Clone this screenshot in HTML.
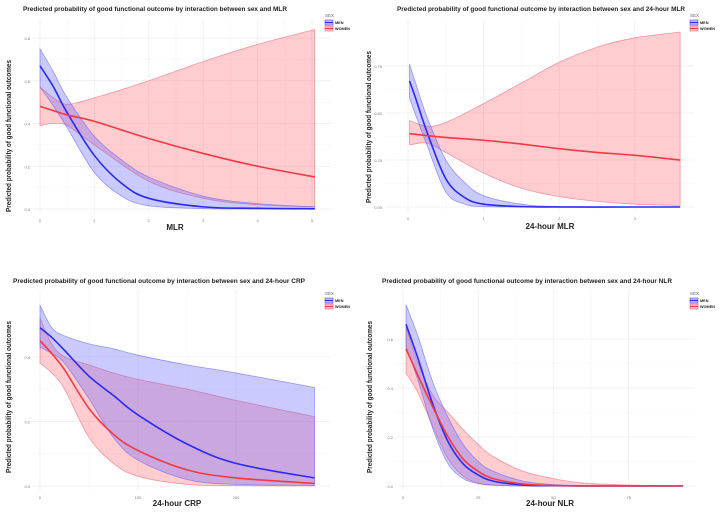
<!DOCTYPE html>
<html><head><meta charset="utf-8"><style>
body{margin:0;background:#fff;width:721px;height:513px;overflow:hidden}
svg{font-family:"Liberation Sans",sans-serif}
</style></head><body>
<svg id="c" width="721" height="513" viewBox="0 0 721 513"></svg>
<script>
// Panel 1: MLR
const p1X=[0,0.25,0.5,1,1.5,2,3,4,5.05];
const p1MenMean=[0.67,0.57,0.45,0.25,0.12,0.05,0.01,0.003,0.001];
const p1MenHi=[0.75,0.64,0.52,0.34,0.23,0.15,0.06,0.025,0.01];
const p1MenLo=[0.57,0.48,0.38,0.17,0.06,0.015,0.002,0,0];
const p1WomX=[0,0.25,0.5,1,2,3,4,5.05];
const p1WomMean=[0.48,0.46,0.44,0.41,0.33,0.26,0.20,0.15];
const p1WomHi=[0.57,0.52,0.49,0.52,0.60,0.69,0.77,0.84];
const p1WomLo=[0.39,0.40,0.39,0.30,0.13,0.05,0.02,0.01];
const p1Ticks=[0,1,2,3,4,5];const p1YTicks=[0,0.2,0.4,0.6,0.8];
// Panel 2: 24-hour MLR
const p2MenX=[0.02,0.1,0.25,0.5,0.75,1,1.5,2,3,3.6];
const p2MenMean=[0.67,0.58,0.40,0.15,0.05,0.015,0.002,0,0,0];
const p2MenHi=[0.76,0.66,0.48,0.25,0.13,0.06,0.015,0.003,0,0];
const p2MenLo=[0.58,0.49,0.33,0.08,0.015,0.002,0,0,0,0];
const p2WomX=[0.02,0.25,0.5,1,1.5,2,2.5,3,3.6];
const p2WomMean=[0.39,0.38,0.37,0.355,0.335,0.31,0.29,0.275,0.25];
const p2WomHi=[0.46,0.43,0.45,0.55,0.66,0.77,0.85,0.90,0.93];
const p2WomLo=[0.33,0.34,0.29,0.18,0.10,0.055,0.03,0.015,0.008];
const p2Ticks=[0,1,2,3];const p2YTicks=[0,0.25,0.5,0.75];
// Panel 3: 24-hour CRP
const p3X=[0,12,25,50,75,100,150,200,280];
const p3MenMean=[0.49,0.46,0.42,0.34,0.28,0.22,0.13,0.07,0.025];
const p3MenHi=[0.56,0.49,0.465,0.44,0.425,0.405,0.375,0.35,0.305];
const p3MenLo=[0.43,0.41,0.38,0.27,0.15,0.08,0.02,0.005,0.002];
const p3WomMean=[0.45,0.41,0.36,0.24,0.16,0.11,0.05,0.025,0.008];
const p3WomHi=[0.52,0.44,0.40,0.375,0.35,0.33,0.30,0.265,0.215];
const p3WomLo=[0.38,0.35,0.30,0.15,0.07,0.03,0.005,0.001,0];
const p3Ticks=[0,100,200];const p3YTicks=[0,0.2,0.4];
// Panel 4: 24-hour NLR
const p4X=[1,5,10,15,20,25,30,40,50,60,75,93];
const p4MenMean=[0.66,0.52,0.33,0.18,0.09,0.045,0.02,0.004,0.001,0,0,0];
const p4MenHi=[0.74,0.61,0.42,0.28,0.17,0.10,0.06,0.02,0.006,0.002,0,0];
const p4MenLo=[0.57,0.43,0.23,0.09,0.03,0.01,0.003,0,0,0,0,0];
const p4WomMean=[0.56,0.45,0.32,0.20,0.11,0.06,0.03,0.008,0.002,0,0,0];
const p4WomHi=[0.65,0.50,0.37,0.30,0.23,0.17,0.12,0.06,0.03,0.012,0.004,0.001];
const p4WomLo=[0.46,0.38,0.24,0.11,0.04,0.012,0.004,0,0,0,0,0];
const p4Ticks=[0,25,50,75];const p4YTicks=[0,0.2,0.4,0.6];

const svg=document.getElementById('c');
const NS='http://www.w3.org/2000/svg';
function mk(tag,attrs,parent){const e=document.createElementNS(NS,tag);for(const k in attrs)e.setAttribute(k,attrs[k]);(parent||svg).appendChild(e);return e;}
function smooth(pts){let d='M'+pts[0][0]+','+pts[0][1];for(let i=0;i<pts.length-1;i++){const p0=pts[i-1]||pts[i],p1=pts[i],p2=pts[i+1],p3=pts[i+2]||p2;const c1=[p1[0]+(p2[0]-p0[0])/6,p1[1]+(p2[1]-p0[1])/6],c2=[p2[0]-(p3[0]-p1[0])/6,p2[1]-(p3[1]-p1[1])/6];d+=`C${c1[0]},${c1[1]} ${c2[0]},${c2[1]} ${p2[0]},${p2[1]}`;}return d;}
function rsmooth(pts){return smooth(pts).replace(/^M/,'L');}

function panel(o){
  const g=mk('g',{});
  
  
  const sx=v=>o.x0+(v-o.xmin)*o.xs, sy=v=>o.y0-v*o.ys;
  o.yTicks.forEach(t=>{const l=mk('line',{x1:o.left,x2:o.right,y1:sy(t),y2:sy(t),stroke:'#ebebeb','stroke-width':0.7},g);
    const tx=mk('text',{x:o.left-3,y:sy(t)+2,'font-size':4,fill:'#777','text-anchor':'end'},g);tx.textContent=o.yFmt(t);});
  for(let i=0;i<o.yTicks.length-1;i++){const m=(o.yTicks[i]+o.yTicks[i+1])/2;mk('line',{x1:o.left,x2:o.right,y1:sy(m),y2:sy(m),stroke:'#f4f4f4','stroke-width':0.5},g);}
  o.xTicks.forEach((t,i)=>{mk('line',{x1:sx(t),x2:sx(t),y1:o.top,y2:o.y0+4,stroke:'#ebebeb','stroke-width':0.7},g);
    if(i<o.xTicks.length-1){const m=(t+o.xTicks[i+1])/2;if(sx(m)<o.right)mk('line',{x1:sx(m),x2:sx(m),y1:o.top,y2:o.y0+4,stroke:'#f4f4f4','stroke-width':0.5},g);}
    const tx=mk('text',{x:sx(t),y:o.y0+13,'font-size':4,fill:'#777','text-anchor':'middle'},g);tx.textContent=t;});
  function ribbon(xs,hi,lo,fill,stroke,name){const up=xs.map((x,i)=>[sx(x),sy(hi[i])]);const dn=xs.map((x,i)=>[sx(x),sy(lo[i])]).reverse();
    const p=mk('path',{d:smooth(up)+rsmooth(dn)+'Z',fill:fill,stroke:stroke,'stroke-width':0.8,'stroke-opacity':0.6},g);}
  function line(xs,ys,col,name){const p=mk('path',{d:smooth(xs.map((x,i)=>[sx(x),sy(ys[i])])),fill:'none',stroke:col,'stroke-width':1.6},g);}
  ribbon(o.wx,o.wHi,o.wLo,'rgba(255,110,120,0.35)','#f06070','women-ci-band');
  ribbon(o.mx,o.mHi,o.mLo,'rgba(90,90,255,0.32)','#6060f0','men-ci-band');
  line(o.mx,o.mMean,'#2a2af0','men-line');
  line(o.wx,o.wMean,'#f03a45','women-line');
  const t=mk('text',{x:o.tx,y:o.ty,'font-size':6.8,'font-weight':'bold',fill:'#222',textLength:o.tw,lengthAdjust:'spacingAndGlyphs'},g);t.textContent=o.title;
  const xl=mk('text',{x:o.xlx,y:o.xly,'font-size':8,'font-weight':'bold',fill:'#222','text-anchor':'middle'},g);xl.textContent=o.xlabel;
  const yl=mk('text',{x:0,y:0,'font-size':7.3,'font-weight':'bold',fill:'#222','text-anchor':'middle',textLength:152,lengthAdjust:'spacingAndGlyphs',transform:`translate(${o.ylx},${o.yly}) rotate(-90)`},g);yl.textContent='Predicted probability of  good functional outcomes';
  const lg=mk('g',{},g);
  const lt=mk('text',{x:o.lgx,y:o.lgy,'font-size':4.5,fill:'#666'},lg);lt.textContent='SEX';
  [['MEN','rgba(90,90,255,0.35)','#2a2af0'],['WOMEN','rgba(255,110,120,0.35)','#f03a45']].forEach((e,i)=>{const y=o.lgy+3+i*6;
    const r=mk('rect',{x:o.lgx,y:y,width:8,height:5,fill:e[1],stroke:e[2],'stroke-width':0.5},lg);
    mk('line',{x1:o.lgx,x2:o.lgx+8,y1:y+2.5,y2:y+2.5,stroke:e[2],'stroke-width':1.2},lg);
    const tx=mk('text',{x:o.lgx+10,y:y+4,'font-size':3.8,'font-weight':'bold',fill:'#222'},lg);tx.textContent=e[0];});
}
const f1=v=>v.toFixed(1), f2=v=>v.toFixed(2);
panel({name:'panel-mlr',xmin:0,x0:40,xs:54.4,y0:209,ys:213.75,left:33,right:331,top:20,xTicks:p1Ticks,yTicks:p1YTicks,yFmt:f1,
 mx:p1X,mMean:p1MenMean,mHi:p1MenHi,mLo:p1MenLo,wx:p1WomX,wMean:p1WomMean,wHi:p1WomHi,wLo:p1WomLo,
 title:'Predicted probability of  good functional outcome by interaction between sex and MLR',tx:23,ty:11,tw:264,xlabel:'MLR',xlx:175,xly:230,ylx:11,yly:136,lgx:325,lgy:17});
panel({name:'panel-24h-mlr',xmin:0,x0:408,xs:75.6,y0:207,ys:188,left:385,right:694,top:20,xTicks:p2Ticks,yTicks:p2YTicks,yFmt:f2,
 mx:p2MenX,mMean:p2MenMean,mHi:p2MenHi,mLo:p2MenLo,wx:p2WomX,wMean:p2WomMean,wHi:p2WomHi,wLo:p2WomLo,
 title:'Predicted probability of  good functional outcome by interaction between sex and 24-hour MLR',tx:397,ty:11,tw:288,xlabel:'24-hour MLR',xlx:550,xly:229,ylx:371,yly:127,lgx:690,lgy:17});
panel({name:'panel-24h-crp',xmin:0,x0:40,xs:0.98,y0:486,ys:323,left:33,right:330,top:290,xTicks:p3Ticks,yTicks:p3YTicks,yFmt:f1,
 mx:p3X,mMean:p3MenMean,mHi:p3MenHi,mLo:p3MenLo,wx:p3X,wMean:p3WomMean,wHi:p3WomHi,wLo:p3WomLo,
 title:'Predicted probability of  good functional outcome by interaction between sex and 24-hour CRP',tx:13,ty:283,tw:292,xlabel:'24-hour CRP',xlx:177,xly:506,ylx:11,yly:397,lgx:325,lgy:295});
panel({name:'panel-24h-nlr',xmin:0,x0:403,xs:3.01,y0:486,ys:245,left:396,right:695,top:290,xTicks:p4Ticks,yTicks:p4YTicks,yFmt:f1,
 mx:p4X,mMean:p4MenMean,mHi:p4MenHi,mLo:p4MenLo,wx:p4X,wMean:p4WomMean,wHi:p4WomHi,wLo:p4WomLo,
 title:'Predicted probability of  good functional outcome by interaction between sex and 24-hour NLR',tx:382,ty:283,tw:290,xlabel:'24-hour NLR',xlx:550,xly:506,ylx:372,yly:397,lgx:690,lgy:295});
</script>
</body></html>
